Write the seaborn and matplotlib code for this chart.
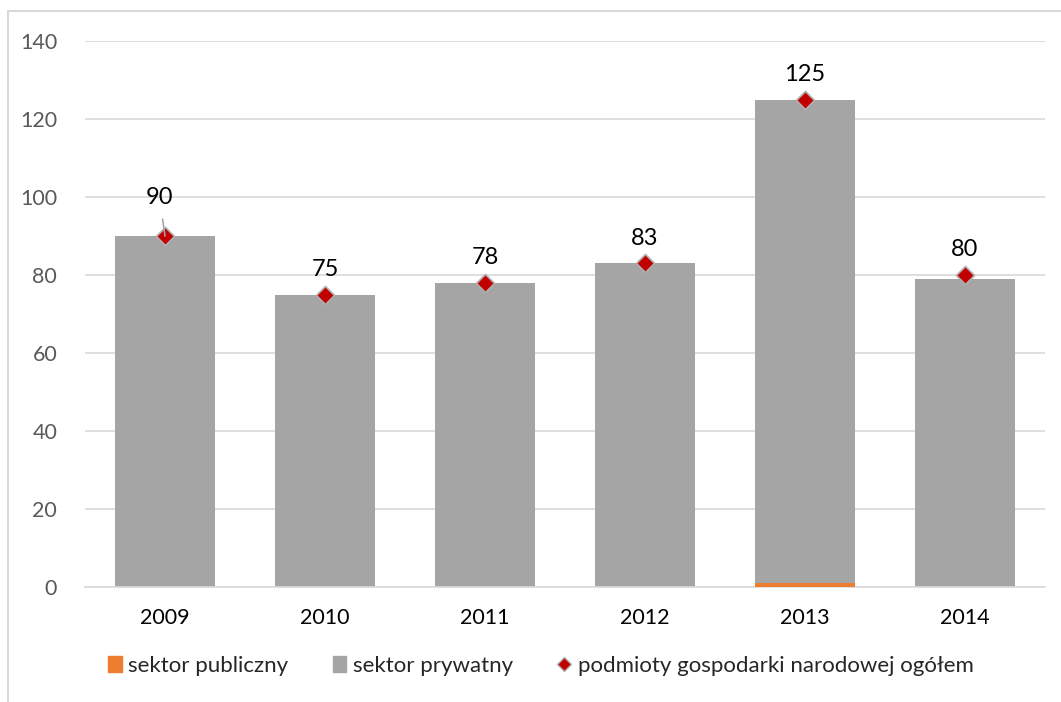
import matplotlib
matplotlib.use("Agg")
import matplotlib.pyplot as plt
import matplotlib.patches as mpatches
from matplotlib.lines import Line2D
import pandas as pd
import seaborn as sns

years = ["2009", "2010", "2011", "2012", "2013", "2014"]
public = [0, 0, 0, 0, 1, 0]
private = [90, 75, 78, 83, 124, 79]
total = [90, 75, 78, 83, 125, 80]

c_pub = "#ed7d31"
c_priv = "#a5a5a5"
c_tot = "#c00000"

sns.set_style("white")
plt.rcParams["font.family"] = ["Lato", "DejaVu Sans"]

df = pd.DataFrame({"year": years, "public": public, "private": private, "total": total})
df["stack"] = df["public"] + df["private"]

fig = plt.figure(figsize=(10.61, 7.02), dpi=100)
ax = fig.add_axes([85 / 1061, 115 / 702, 960 / 1061, 546 / 702])

# stacked bar: private on top of public
sns.barplot(data=df, x="year", y="stack", color=c_priv, width=0.625,
            saturation=1, linewidth=0, ax=ax, zorder=2)
sns.barplot(data=df, x="year", y="public", color=c_pub, width=0.625,
            saturation=1, linewidth=0, ax=ax, zorder=3)
sns.scatterplot(x=range(len(years)), y=total, marker="D", s=85, color=c_tot,
                edgecolor="#b0b0b0", linewidth=1.2, ax=ax, zorder=4)

for i, v in enumerate(total):
    if i == 0:
        ax.annotate(str(v), xy=(i, v), xytext=(-4, 28), textcoords="offset points",
                    ha="center", va="center", fontsize=17, color="black", zorder=5,
                    arrowprops=dict(arrowstyle="-", color="#a5a5a5", lw=1.2,
                                    shrinkA=6, shrinkB=0))
    else:
        ax.annotate(str(v), xy=(i, v), xytext=(0, 18), textcoords="offset points",
                    ha="center", va="center", fontsize=17, color="black")

ax.set_xlim(-0.5, 5.5)
ax.set_ylim(0, 140)
ax.set_yticks(range(0, 141, 20))
ax.yaxis.grid(True, color="#d9d9d9", linewidth=1.2)
ax.set_axisbelow(True)
for s in ["top", "right", "left"]:
    ax.spines[s].set_visible(False)
ax.spines["bottom"].set_color("#d9d9d9")
ax.spines["bottom"].set_linewidth(1.2)
ax.tick_params(axis="y", length=0, pad=20, labelsize=15.5, labelcolor="#595959")
ax.tick_params(axis="x", length=0, pad=15, labelsize=15.5, labelcolor="black")
ax.set_xlabel("")
ax.set_ylabel("")

handles = [
    mpatches.Patch(color=c_pub, label="sektor publiczny"),
    mpatches.Patch(color=c_priv, label="sektor prywatny"),
    Line2D([], [], marker="D", color="none", markerfacecolor=c_tot,
           markeredgecolor="#b0b0b0", markersize=7, label="podmioty gospodarki narodowej ogółem"),
]
fig.legend(handles=handles, loc="center", bbox_to_anchor=(541 / 1061, 1 - 666 / 702),
           ncol=3, frameon=False, fontsize=16, handlelength=0.6, handletextpad=0.3,
           columnspacing=2.0)

fig.patches.append(mpatches.Rectangle((8 / 1061, -0.1), 1.2, 1 - 11 / 702 + 0.1,
                                      transform=fig.transFigure, fill=False,
                                      edgecolor="#d9d9d9", linewidth=1.5))

fig.savefig("out.png", dpi=100)
